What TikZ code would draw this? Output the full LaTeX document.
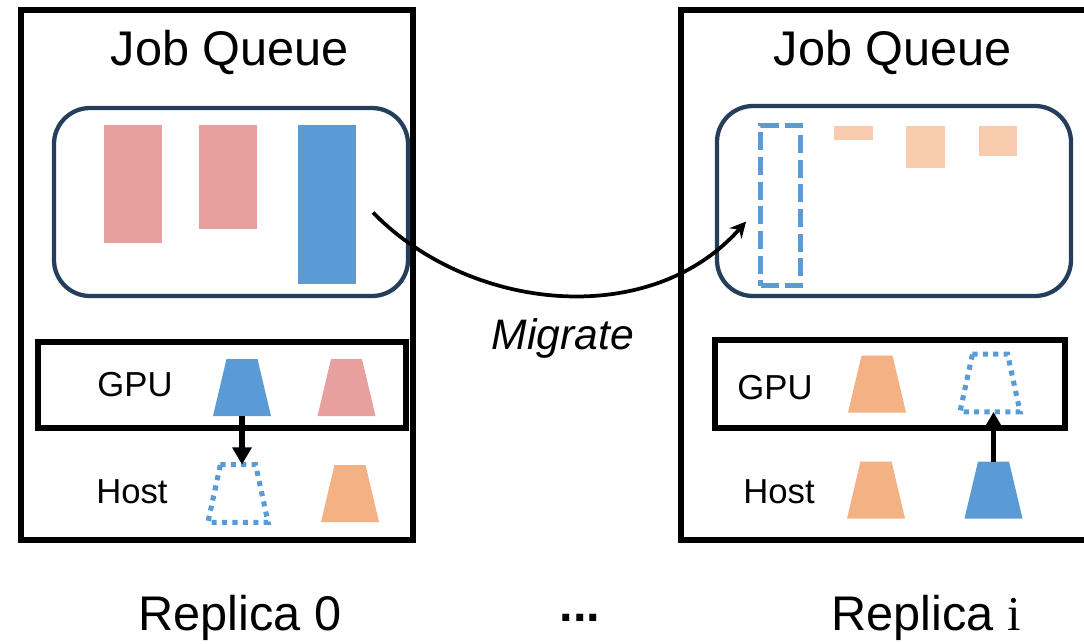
\documentclass[tikz,border=0pt]{standalone}
\usepackage{fontspec}
\setmainfont{Liberation Sans}
\newfontfamily\serifletter{Liberation Serif}
\usetikzlibrary{arrows.meta,calc}

\definecolor{jobPink}{RGB}{232,160,159}
\definecolor{jobBlue}{RGB}{91,155,213}
\definecolor{jobPeach}{RGB}{248,203,173}
\definecolor{kvOrange}{RGB}{244,177,131}
\definecolor{queueNavy}{RGB}{36,62,92}

% trapezoid drawn inside a named slot node: #1 = style, #2 = node name, #3 = slant
\newcommand{\kvShape}[3]{%
  \path [#1] ($(#2.north west)+(#3,0)$) -- ($(#2.north east)+(-#3,0)$) -- (#2.south east) -- (#2.south west) -- cycle;}

\tikzset{every picture/.style={line width=0.75pt}}
\tikzset{
  replicaFrame/.style={draw=black,line width=4.4pt},
  queueFrame/.style={draw=queueNavy,line width=3.2pt,rounded corners=27pt},
  gpuFrame/.style={draw=black,line width=4.4pt},
  jobBar/.style={inner sep=0pt,outer sep=0pt,anchor=north west,minimum width=43.5pt},
  ghostBar/.style={draw=jobBlue,line width=3.6pt,dash pattern=on 13.5pt off 5pt,inner sep=0pt,minimum width=30pt,minimum height=120pt},
  kvSlot/.style={inner sep=0pt,outer sep=0pt,minimum width=43.5pt,minimum height=42.75pt},
  ghostSlot/.style={inner sep=0pt,outer sep=1.8pt,minimum width=41.5pt,minimum height=39.75pt},
  ghostLine/.style={draw=jobBlue,line width=3.8pt,dash pattern=on 3.8pt off 4pt,line join=miter},
  moveArrow/.style={line width=4.4pt,-{Triangle[length=13pt,width=14pt]}},
  migrateArrow/.style={line width=2.8pt,-{Stealth[length=12pt,width=12pt]}},
  titleText/.style={font=\fontsize{36.5}{44}\selectfont},
  memText/.style={font=\fontsize{26}{31}\selectfont},
}

\begin{document}
\begin{tikzpicture}[x=0.75pt,y=0.75pt,yscale=-1,xscale=1]
\clip (0,0) rectangle (1084,643); %picture is 1084 wide and 643 high

%Shape: Rectangle (replica 0)
\draw [replicaFrame] (21,10) rectangle (413,540);
%Shape: Rectangle (replica i, right side cut off)
\draw [replicaFrame] (681,10) rectangle (1095,540);

% Text Node
\node [titleText] (titleZero) at (230,52) {Job Queue};
% Text Node
\node [titleText] (titleI) at (893,52) {Job Queue};

%Shape: Rounded Rect (queue of replica 0)
\draw [queueFrame] (54,108) rectangle (408,296);
%Shape: Rounded Rect (queue of replica i)
\draw [queueFrame] (717,106) rectangle (1071,296);

%Jobs waiting in replica 0
\node [jobBar,fill=jobPink,minimum height=88.5pt] (jobPinkA) at (104,125) {};
\node [jobBar,fill=jobPink,minimum height=78pt] (jobPinkB) at (199,125) {};
\node [jobBar,fill=jobBlue,minimum height=119.25pt] (jobBlueA) at (298,125) {};

%Jobs waiting in replica i
\node [ghostBar] (jobGhost) at (780.5,205.5) {};
\node [jobBar,fill=jobPeach,minimum width=29.25pt,minimum height=10.5pt] (jobPeachA) at (834,126) {};
\node [jobBar,fill=jobPeach,minimum width=29.25pt,minimum height=31.5pt] (jobPeachB) at (906,126) {};
\node [jobBar,fill=jobPeach,minimum width=28.5pt,minimum height=22.5pt] (jobPeachC) at (979,126) {};

%Straight Lines (migration)
\draw [migrateArrow] ($(jobBlueA.east)+(17,8)$) .. controls (470,312) and (650,330) .. ($(jobGhost.west)+(-12,16)$);
% Text Node
\node [font=\fontsize{32}{38}\selectfont\itshape] (migrateLabel) at (563,338) {Migrate};

%Shape: Rectangle (GPU of replica 0)
\draw [gpuFrame] (38,342) rectangle (406,428);
%Shape: Rectangle (GPU of replica i)
\draw [gpuFrame] (715,340) rectangle (1065,428);

% Text Node
\node [memText] (gpuZero) at (135,385) {GPU};
\node [memText] (hostZero) at (132,492) {Host};
\node [memText] (gpuI) at (775,388) {GPU};
\node [memText] (hostI) at (779,492) {Host};

%KV blocks of replica 0
\node [kvSlot] (kvGpuBlue) at (242,387.5) {};
\node [kvSlot] (kvGpuPink) at (346.5,387.5) {};
\node [ghostSlot] (kvHostGhost) at (238,493.5) {};
\node [kvSlot] (kvHostOrange) at (350,493.5) {};
\kvShape{fill=jobBlue}{kvGpuBlue}{13.5}
\kvShape{fill=jobPink}{kvGpuPink}{13.5}
\kvShape{ghostLine}{kvHostGhost}{12.5}
\kvShape{fill=kvOrange}{kvHostOrange}{13.5}

%KV blocks of replica i
\node [kvSlot] (kvGpuOrange) at (877,384) {};
\node [ghostSlot] (kvGpuGhost) at (990,383) {};
\node [kvSlot] (kvHostOrangeI) at (876,490) {};
\node [kvSlot] (kvHostBlue) at (993.5,490) {};
\kvShape{fill=kvOrange}{kvGpuOrange}{13.5}
\kvShape{ghostLine}{kvGpuGhost}{12.5}
\kvShape{fill=kvOrange}{kvHostOrangeI}{13.5}
\kvShape{fill=jobBlue}{kvHostBlue}{13.5}

%Straight Lines (swap out / swap in)
\draw [moveArrow] (kvGpuBlue.south) -- (kvGpuBlue.south |- kvHostGhost.north);
\draw [moveArrow] (kvHostBlue.north) -- (kvHostBlue.north |- kvGpuGhost.south);

% Text Node
\node [titleText] (replicaZero) at (240,618) {Replica 0};
\node [titleText] (dotsLabel) at (580,618) {\textbf{...}};
\node [titleText] (replicaI) at (926,618) {Replica {\serifletter i}};

\end{tikzpicture}
\end{document}
